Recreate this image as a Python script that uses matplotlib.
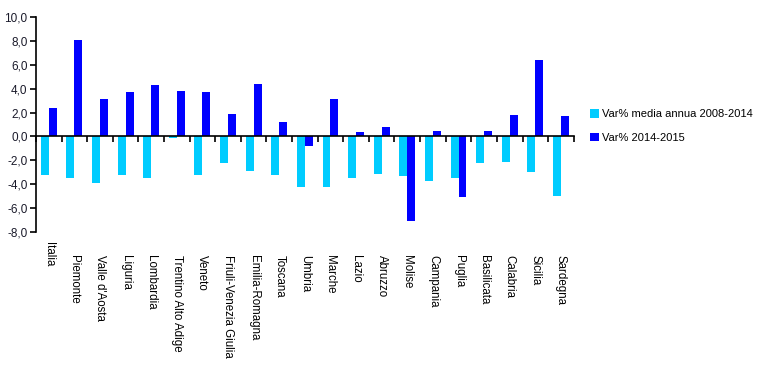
import matplotlib.pyplot as plt
import numpy as np

plt.rcParams["font.family"] = ["Liberation Sans", "DejaVu Sans"]

regioni = ["Italia", "Piemonte", "Valle d'Aosta", "Liguria", "Lombardia",
           "Trentino Alto Adige", "Veneto", "Friuli-Venezia Giulia",
           "Emilia-Romagna", "Toscana", "Umbria", "Marche", "Lazio",
           "Abruzzo", "Molise", "Campania", "Puglia", "Basilicata",
           "Calabria", "Sicilia", "Sardegna"]

# Var% media annua 2008-2014
media_0814 = [-3.2, -3.5, -3.9, -3.2, -3.5, -0.1, -3.2, -2.2, -2.9, -3.2,
              -4.2, -4.2, -3.5, -3.1, -3.3, -3.7, -3.5, -2.2, -2.1, -3.0, -5.0]
# Var% 2014-2015
var_1415 = [2.4, 8.1, 3.1, 3.7, 4.3, 3.8, 3.7, 1.9, 4.4, 1.2,
            -0.8, 3.1, 0.4, 0.8, -7.1, 0.5, -5.1, 0.5, 1.8, 6.4, 1.7]

col_light = "#00CCFF"
col_dark = "#0000FF"

fig = plt.figure(figsize=(7.65, 3.69), dpi=100)
ax = fig.add_axes([0.047, 0.371, 0.703, 0.583])

x = np.arange(len(regioni))
w = 0.31
b1 = ax.bar(x - w / 2, media_0814, w, color=col_light, label="Var% media annua 2008-2014")
b2 = ax.bar(x + w / 2, var_1415, w, color=col_dark, label="Var% 2014-2015")

ax.set_xlim(-0.5, len(regioni) - 0.5)
ax.set_ylim(-8, 10)
ax.set_yticks(np.arange(-8, 11, 2))
ax.set_yticklabels([f"{v:.1f}".replace(".", ",") for v in np.arange(-8, 11, 2)],
                   fontsize=8.5, color="#1a1a2a")

for s in ["top", "right"]:
    ax.spines[s].set_visible(False)
ax.spines["bottom"].set_position(("data", 0))
ax.spines["bottom"].set_linewidth(1.2)
ax.spines["left"].set_linewidth(1.2)

ax.set_xticks(np.arange(len(regioni) + 1) - 0.5)
ax.set_xticklabels([])
ax.tick_params(axis="x", direction="out", length=4, width=1.2)
ax.tick_params(axis="y", direction="out", length=4, width=1.2, pad=2)

# etichette regioni ruotate (Italia un po' piu' in alto, come nell'originale)
for i, r in enumerate(regioni):
    yy = -0.045 if i == 0 else -0.105
    ax.text(i, yy, r, transform=ax.get_xaxis_transform(), rotation=270,
            ha="center", va="top", fontsize=8.3)

fig.legend(handles=[b1, b2], loc="upper left", bbox_to_anchor=(0.765, 0.716),
           frameon=False, fontsize=8, handlelength=0.8, handleheight=0.8,
           handletextpad=0.3, labelspacing=1.2, borderaxespad=0)

fig.savefig("out.png", dpi=100)
